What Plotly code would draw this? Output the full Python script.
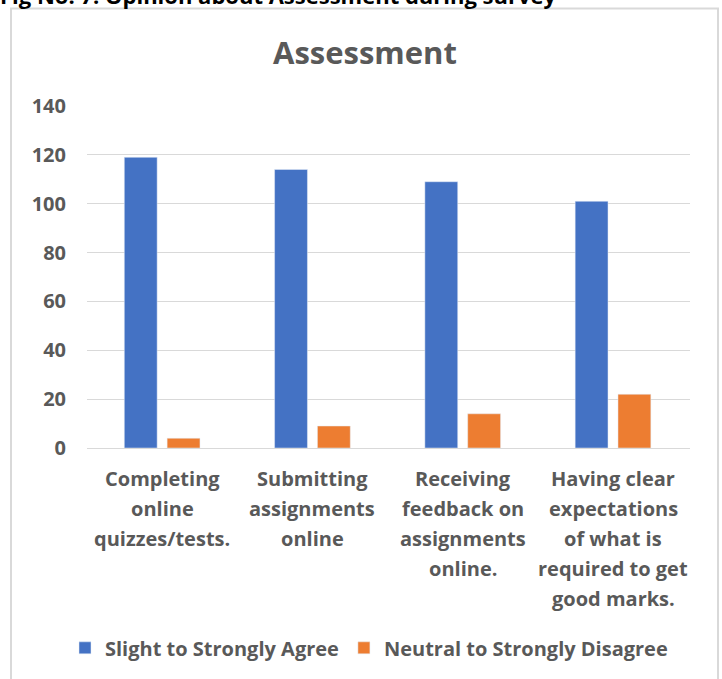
import plotly.graph_objects as go

categories = ["Completing online quizzes/tests.",
              "Submitting assignments online",
              "Receiving feedback on assignments online.",
              "Having clear expectations of what is required to get good marks."]
label_lines = [["Completing", "online", "quizzes/tests."],
               ["Submitting", "assignments", "online"],
               ["Receiving", "feedback on", "assignments", "online."],
               ["Having clear", "expectations", "of what is", "required to get", "good marks."]]
agree = [119, 114, 109, 101]
disagree = [4, 9, 14, 22]
series_names = ["Slight to Strongly Agree", "Neutral to Strongly Disagree"]
y_ticks = [0, 20, 40, 60, 80, 100, 120, 140]

FONT = "Open Sans"
GRAY = "#595959"

fig = go.Figure()
fig.add_trace(go.Bar(x=categories, y=agree, name=series_names[0], marker_color="#4472C4"))
fig.add_trace(go.Bar(x=categories, y=disagree, name=series_names[1], marker_color="#ED7D31"))

L, R, T, B = 87, 32, 106, 229
W, H = 722, 679
pw, ph = W - L - R, H - T - B

def px_x(p):
    return (p - L) / pw

def px_y(p):
    return (H - B - p) / ph

annotations = []
for cat, lines in zip(categories, label_lines):
    for i, ln in enumerate(lines):
        annotations.append(dict(x=cat, xref="x", y=0, yref="paper", yanchor="middle",
                                yshift=-(30 + 30 * i), text=ln, showarrow=False,
                                font=dict(family=FONT, size=20, color=GRAY, weight="bold")))
annotations.append(dict(x=px_x(365), xref="paper", y=px_y(52), yref="paper", yanchor="middle",
                        text="Assessment", showarrow=False,
                        font=dict(family=FONT, size=31, color=GRAY, weight="bold")))
annotations.append(dict(x=px_x(-2), xref="paper", xanchor="left", y=px_y(-6), yref="paper",
                        yanchor="middle", text="Fig No. 7: Opinion about Assessment during survey",
                        showarrow=False, font=dict(family=FONT, size=22, color="#000000", weight="bold")))

fig.update_layout(
    width=W, height=H,
    margin=dict(l=L, r=R, t=T, b=B),
    paper_bgcolor="white", plot_bgcolor="white",
    barmode="group", bargap=0.43, bargroupgap=0.233,
    showlegend=True,
    legend=dict(orientation="h", x=px_x(369), xanchor="center", y=px_y(651), yanchor="middle",
                font=dict(family=FONT, size=20, color=GRAY, weight="bold"), traceorder="normal",
                itemwidth=30),
    annotations=annotations,
    shapes=[dict(type="rect", xref="paper", yref="paper",
                 x0=px_x(11), x1=px_x(718), y0=px_y(720), y1=px_y(8),
                 line=dict(color="#d9d9d9", width=2), fillcolor="rgba(0,0,0,0)", layer="below")],
)
fig.update_xaxes(showticklabels=False, showgrid=False, showline=False, ticks="")
fig.update_yaxes(range=[0, 140], tickvals=y_ticks,
                 tickfont=dict(family=FONT, size=20, color=GRAY, weight="bold"), showgrid=True,
                 gridcolor="#d9d9d9", gridwidth=1, zeroline=True, zerolinecolor="#d9d9d9",
                 zerolinewidth=1, showline=False, ticks="", ticklabelstandoff=20)

fig.write_html("out.html", config={"displayModeBar": False},
               post_script="document.body.style.margin='0px';document.body.style.overflow='hidden';")
